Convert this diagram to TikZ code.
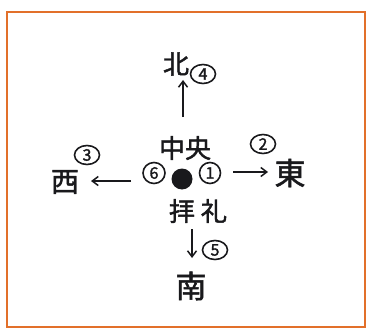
\documentclass[tikz,border=0pt]{standalone}
\usepackage{fontspec}
\setmainfont{Noto Sans CJK JP}[FakeBold=1.6]
\usetikzlibrary{positioning,arrows.meta,shapes.geometric}
\definecolor{frameorange}{RGB}{226,112,42}
\definecolor{ink}{RGB}{25,25,28}
\tikzset{
  kanji/.style={text=ink,inner sep=0pt,font=\fontsize{26}{26}\selectfont},
  numbered/.style={ellipse,draw=ink,line width=1.6pt,text=ink,inner sep=0pt,
    minimum width=25pt,minimum height=19pt,font=\fontsize{16}{16}\selectfont},
  dirarrow/.style={->,draw=ink,line width=1.5pt}
}

\begin{document}
\begin{tikzpicture}[x=1pt,y=-1pt,>={Straight Barb[length=6pt,width=9pt]}]
  \useasboundingbox (0,0) rectangle (367,329);
  \draw[frameorange,line width=2.5pt,fill=white] (7,12) rectangle (365,327);
  % centre
  \fill[ink] (182,179) circle (10.5);
  \node[kanji] (chuo) at (185,148) {中央};
  \node[kanji] (hairei) at (198,211) {拝\hspace{6pt}礼};
  \node[numbered,minimum width=22pt,minimum height=21pt] (six) at (154,173) {6};
  \node[numbered,minimum width=21pt,minimum height=21pt] (one) at (210,173) {1};
  % directions
  \node[kanji] (kita) at (176,64) {北};
  \node[numbered] (four) at (203,74) {4};
  \node[kanji,font=\fontsize{28}{28}\selectfont] (nishi) at (65,182) {西};
  \node[numbered] (three) at (87,155) {3};
  \node[kanji,font=\fontsize{31}{31}\selectfont] (higashi) at (290,173) {東};
  \node[numbered] (two) at (263,144) {2};
  \node[kanji,font=\fontsize{31}{31}\selectfont] (minami) at (191,286) {南};
  \node[numbered] (five) at (215,250) {5};
  % arrows
  \coordinate (upfoot) at (183,117);  \coordinate (uptip) at (183,80);
  \coordinate (leftfoot) at (131,181); \coordinate (lefttip) at (91,181);
  \coordinate (rightfoot) at (233,172); \coordinate (righttip) at (268,172);
  \coordinate (downfoot) at (192,229); \coordinate (downtip) at (192,258);
  \draw[dirarrow] (upfoot) -- (uptip);
  \draw[dirarrow] (leftfoot) -- (lefttip);
  \draw[dirarrow] (rightfoot) -- (righttip);
  \draw[dirarrow] (downfoot) -- (downtip);
\end{tikzpicture}
\end{document}
